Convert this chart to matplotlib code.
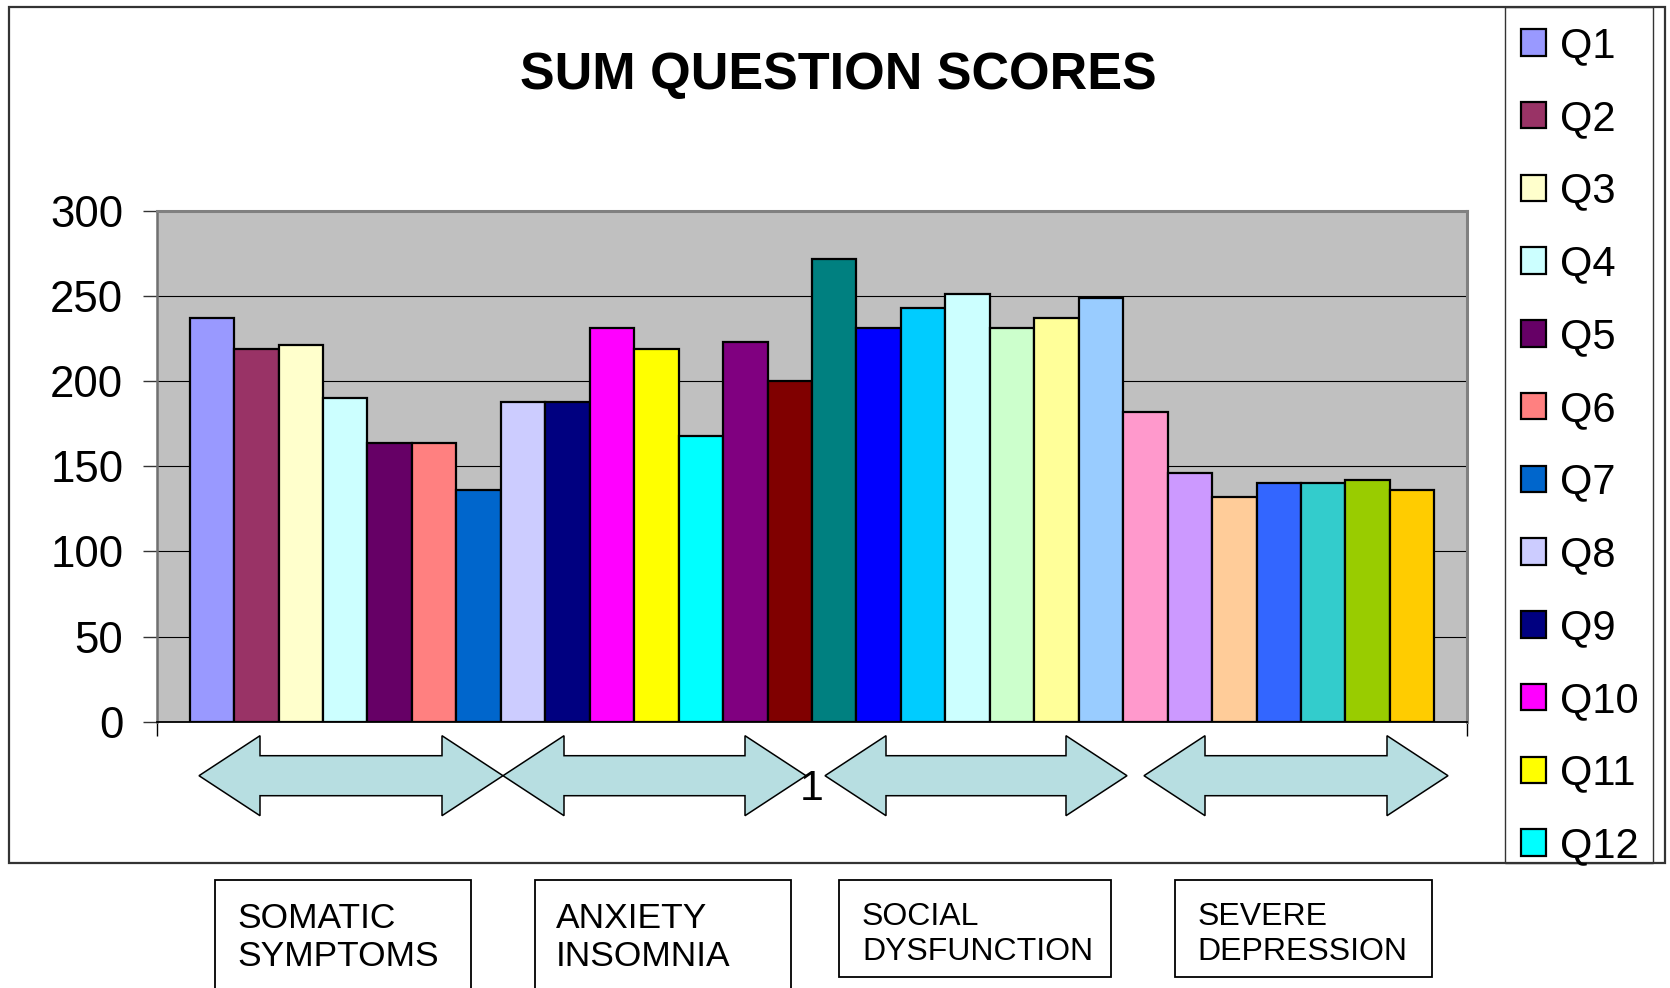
import matplotlib
matplotlib.use("Agg")
import matplotlib.pyplot as plt
from matplotlib.patches import Rectangle, Polygon

plt.rcParams['font.family'] = ['Liberation Sans', 'DejaVu Sans']

# ---- data ----
questions = [f"Q{i}" for i in range(1, 29)]
scores = [237, 219, 221, 190, 164, 164, 136, 188, 188, 231, 219, 168, 223, 200,
          272, 231, 243, 251, 231, 237, 249, 182, 146, 132, 140, 140, 142, 136]
colors = ['#9999FF', '#993366', '#FFFFCC', '#CCFFFF', '#660066', '#FF8080',
          '#0066CC', '#CCCCFF', '#000080', '#FF00FF', '#FFFF00', '#00FFFF',
          '#800080', '#800000', '#008080', '#0000FF', '#00CCFF', '#CCFFFF',
          '#CCFFCC', '#FFFF99', '#99CCFF', '#FF99CC', '#CC99FF', '#FFCC99',
          '#3366FF', '#33CCCC', '#99CC00', '#FFCC00']
legend_count = 12  # legend is clipped after Q12 in the original
category_label = "1"
yticks = [0, 50, 100, 150, 200, 250, 300]
groups = ["SOMATIC\nSYMPTOMS", "ANXIETY\nINSOMNIA", "SOCIAL\nDYSFUNCTION", "SEVERE\nDEPRESSION"]
title = "SUM QUESTION SCORES"

W, H = 1670, 988
fig = plt.figure(figsize=(W / 100, H / 100), dpi=100)
fig.patch.set_facecolor('white')

def fx(x):
    return x / W

def fy(y):
    return 1 - y / H

# outer chart border and legend box
fig.add_artist(Rectangle((fx(8.5), fy(863)), fx(1665 - 8.5), (863 - 7) / H,
                         transform=fig.transFigure, fill=False,
                         edgecolor='#333333', linewidth=1.6))
fig.add_artist(Rectangle((fx(1505), fy(863)), fx(1653 - 1505), (863 - 7) / H,
                         transform=fig.transFigure, fill=False,
                         edgecolor='#333333', linewidth=1.0))

# axes
left, right, top, bottom = 156.7, 1467.3, 211, 721.7
ax = fig.add_axes([fx(left), fy(bottom), fx(right - left), (bottom - top) / H])
ax.set_facecolor('#C0C0C0')

x = list(range(len(scores)))
bars = ax.bar(x, scores, width=1.0, color=colors, edgecolor='black',
              linewidth=1.6, zorder=3, label=questions)

gap = 0.74
ax.set_xlim(-0.5 - gap, len(scores) - 0.5 + gap)
ax.set_ylim(0, 300)
ax.set_yticks(yticks)
ax.set_yticklabels([str(v) for v in yticks], fontsize=31.5)
ax.yaxis.grid(True, color='black', linewidth=0.8, zorder=1)
ax.set_axisbelow(True)

ax.set_xticks([(len(scores) - 1) / 2])
ax.set_xticklabels([category_label], fontsize=31)
ax.set_xticks([-0.5 - gap, len(scores) - 0.5 + gap], minor=True)
ax.tick_params(axis='x', which='major', length=0, pad=34)
ax.tick_params(axis='x', which='minor', length=10, width=1, color='black', direction='out')
ax.tick_params(axis='y', length=10, width=1, color='#333333', direction='out', pad=14)

ax.spines['top'].set_color('#808080')
ax.spines['top'].set_linewidth(2.2)
ax.spines['right'].set_color('#808080')
ax.spines['right'].set_linewidth(2.2)
ax.spines['left'].set_color('#707070')
ax.spines['left'].set_linewidth(1.8)
ax.spines['bottom'].set_color('black')
ax.spines['bottom'].set_linewidth(1.3)

# title
fig.text(fx(838), fy(89.3), title, fontsize=37.5, fontweight='bold',
         ha='center', va='baseline')

# legend
fig.legend(handles=list(bars[:legend_count]), labels=questions[:legend_count],
           loc='upper left', bbox_to_anchor=(fx(1520.7), fy(26)),
           frameon=False, fontsize=30, borderpad=0, borderaxespad=0,
           handlelength=0.6, handleheight=0.6, handletextpad=0.34,
           labelspacing=0.786)

# double-headed arrows below the axis
arrows = [(199, 503), (503, 806), (825, 1127), (1144, 1448)]
cy, head_len, head_half, shaft_half = 775.7, 61, 40, 20
for L, R in arrows:
    pts = [(L, cy), (L + head_len, cy - head_half), (L + head_len, cy - shaft_half),
           (R - head_len, cy - shaft_half), (R - head_len, cy - head_half), (R, cy),
           (R - head_len, cy + head_half), (R - head_len, cy + shaft_half),
           (L + head_len, cy + shaft_half), (L + head_len, cy + head_half)]
    fig.add_artist(Polygon([(fx(px), fy(py)) for px, py in pts], closed=True,
                           transform=fig.transFigure, facecolor='#B7DEE1',
                           edgecolor='black', linewidth=1.1, zorder=1))

# group label boxes
boxes = [(215, 471, 880, 1000, 237.3, 966, 25.5),
         (535, 791, 880, 1000, 556, 966, 25.5),
         (839, 1111, 880, 977, 862, 960, 23),
         (1174.6, 1431.5, 880, 977, 1197.5, 960, 23)]
for (x0, x1, y0, y1, tx, tby, fs), label in zip(boxes, groups):
    fig.add_artist(Rectangle((fx(x0), fy(y1)), fx(x1 - x0), (y1 - y0) / H,
                             transform=fig.transFigure, fill=False,
                             edgecolor='black', linewidth=1.3))
    fig.text(fx(tx), fy(tby), label, fontsize=fs, ha='left', va='baseline',
             linespacing=1.2)

fig.savefig('out.png', dpi=100)
